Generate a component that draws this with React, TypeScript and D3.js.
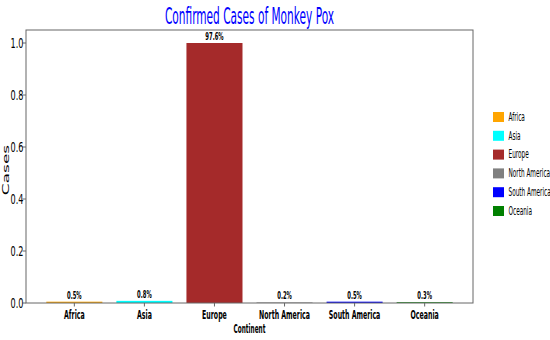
import React from "react";
import * as d3 from "d3";

const categories = ["Africa", "Asia", "Europe", "North America", "South America", "Oceania"];
const percents = [0.5, 0.8, 97.6, 0.2, 0.5, 0.3];
const barValues = [0.0051, 0.0082, 1.0, 0.002, 0.0051, 0.003];
const colors = ["#FFA500", "#00FFFF", "#A52A2A", "#808080", "#0000FF", "#008000"];
const yTicks = [0, 0.2, 0.4, 0.6, 0.8, 1.0];

const W = 550;
const H = 340;
const M = { left: 26, right: 473, top: 30, bottom: 303 };
const SX = 0.48;
const FONT = "DejaVu Sans, sans-serif";

function SText(props: {
  x: number; y: number; size: number; anchor?: string; weight?: string; sx?: number;
  fill?: string; rotate?: number; baseline?: string; children: React.ReactNode;
}) {
  const { x, y, size, anchor = "middle", weight = "normal", fill = "#000", rotate = 0, baseline, sx = SX } = props;
  return (
    <g transform={`translate(${x},${y}) scale(${sx},1)${rotate ? ` rotate(${rotate})` : ""}`}>
      <text
        x={0}
        y={0}
        fontSize={size}
        fontFamily={FONT}
        fontWeight={weight}
        textAnchor={anchor}
        dominantBaseline={baseline}
        fill={fill}
      >
        {props.children}
      </text>
    </g>
  );
}

export default function App() {
  const x = d3.scaleLinear().domain([-0.69, 5.69]).range([M.left, M.right]);
  const y = d3.scaleLinear().domain([0, 1.05]).range([M.bottom, M.top]);
  const bw = (x(0.4) - x(-0.4));

  return (
    <svg width={W} height={H} style={{ position: "absolute", left: 0, top: 0, background: "#fff" }}>
      <rect x={0} y={0} width={W} height={H} fill="#fff" />
      {categories.map((c, i) => (
        <rect
          key={c}
          x={x(i) - bw / 2}
          y={y(barValues[i])}
          width={bw}
          height={Math.max(y(0) - y(barValues[i]), 0)}
          fill={colors[i]}
        />
      ))}
      <rect x={M.left} y={M.top} width={M.right - M.left} height={M.bottom - M.top} fill="none" stroke="#666" strokeWidth={1} />
      {yTicks.map((t) => (
        <g key={t}>
          <line x1={M.left - 3.5} x2={M.left} y1={y(t)} y2={y(t)} stroke="#666" />
          <SText x={M.left - 2.5} y={y(t)} size={14} sx={0.58} anchor="end" baseline="central">
            {d3.format(".1f")(t)}
          </SText>
        </g>
      ))}
      {categories.map((c, i) => (
        <g key={c}>
          <line x1={x(i)} x2={x(i)} y1={M.bottom} y2={M.bottom + 3.5} stroke="#666" />
          <SText x={x(i)} y={319} size={13} weight="bold">{c}</SText>
          <SText x={x(i)} y={y(barValues[i]) - 3} size={11} weight="bold">
            {`${percents[i]}%`}
          </SText>
        </g>
      ))}
      <SText x={(M.left + M.right) / 2} y={333} size={12} weight="bold">Continent</SText>
      <SText x={9} y={170} size={17} rotate={-90}>Cases</SText>
      <SText x={(M.left + M.right) / 2} y={24} size={23} sx={0.46} fill="#0000FF">Confirmed Cases of Monkey Pox</SText>
      {categories.map((c, i) => (
        <g key={c}>
          <rect x={493} y={112 + i * 18.8} width={11} height={10} fill={colors[i]} />
          <SText x={508.5} y={117 + i * 18.8} size={11.5} sx={0.5} anchor="start" baseline="central">{c}</SText>
        </g>
      ))}
    </svg>
  );
}
